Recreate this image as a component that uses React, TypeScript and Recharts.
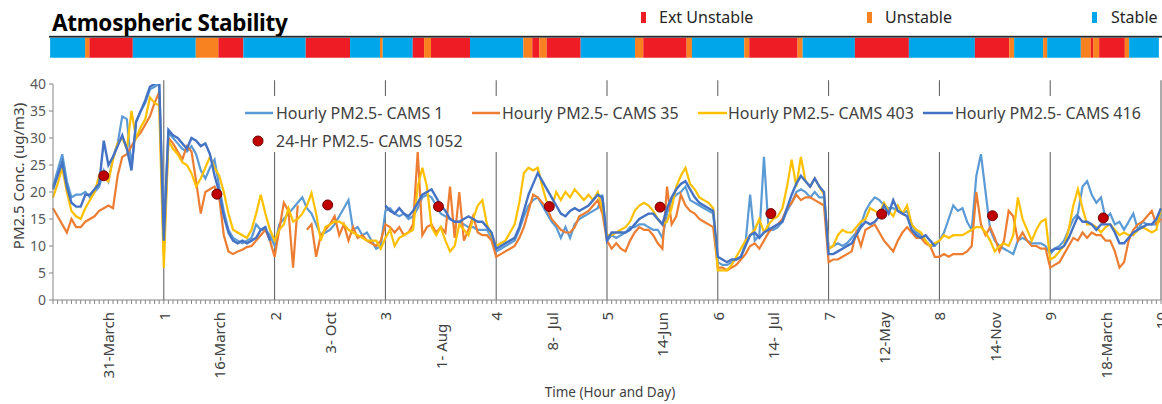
import React from 'react';
import {
  ComposedChart, Line, Scatter, XAxis, YAxis, ReferenceLine, Legend, Label,
  BarChart, Bar,
} from 'recharts';

const FONT = "'Noto Sans', 'Open Sans', sans-serif";

// ---------- hourly series (hour 0 .. 240) ----------
const cams1: (number | null)[] = [
  21, 24, 27, 22, 19, 19.5, 19.5, 20, 19, 20, 21, 24, 22, 26.5, 29, 34, 33.5, 24.5, 33, 35, 36.5, 39, 39.5, 40,
  13, 31, 30, 29, 28, 27.5, 28.5, 27, 24, 22.5, 24.5, 26, 21, 16.5, 13, 11.5, 11, 10.5, 11, 11.5, 14, 13, 13, 12,
  10, 14, 15, 16, 17, 18, 19, 17, 16, 14, 12, 12.5, 13, 14, 15.5, 17, 18.5, 13, 13.5, 12, 12.5, 11, 9.5, 10,
  16.5, 17, 16, 15.5, 16, 15, 15.5, 17, 19, 19.5, 19, 17.5, 16, 15.5, 15, 14.5, 14.5, 14, 13.5, 13.5, 13, 13, 13, 11.5,
  9, 9.5, 10, 10.5, 11, 13, 15.5, 17.5, 18.5, 19, 17.5, 16, 14.5, 13.5, 11.5, 13.5, 11.5, 14, 15, 15.5, 16, 16.5, 17, 19.5,
  11, 12, 11.5, 12, 12.5, 13.5, 13.5, 14, 14, 13.5, 13, 13, 11.5, 16, 18.5, 19.5, 20, 21, 18.5, 18, 17.5, 17, 16.5, 16,
  7, 6.5, 6.5, 7, 7.5, 8, 10.5, 19.5, 11, 12, 26.5, 13, 13, 13.5, 14.5, 16.5, 18, 20, 20.5, 20, 19, 20, 19, 19,
  9.5, 10, 10.5, 10, 10.5, 11.5, 12.5, 14, 16.5, 18, 19, 18.5, 17.5, 17, 17, 16.5, 16, 16.5, 14, 12.5, 12, 11, 10, 10,
  11, 12.5, 15, 17.5, 16.5, 17, 14.5, 13, 23, 27, 20, 13, 11, 10, 9.5, 9, 8.5, 11, 11.5, 11, 10.5, 10.5, 10.5, 10,
  8.5, 9.5, 10, 11, 13, 15, 16, 21, 22, 19.5, 18, 19, 15, 16, 14, 14.5, 13, 14.5, 16, 13, 14.5, 14, 14, 14, 16,
];

const cams35: (number | null)[] = [
  17, 15.5, 14, 12.5, 15, 13.5, 13.5, 14.5, 15, 15.5, 16.5, 17, 17.5, 17, 23, 26.5, 27, 28.5, 30, 31, 32.5, 34, 36.5, 38.5,
  9, 30, 29, 27.5, 26, 28.5, 27.5, 22, 16, 20, 20.5, 21, 19, 12, 9, 8.5, 9, 9.3, 9.8, 10, 11, 12, 13, 11,
  8, 13, 18, 16.5, 6, 17.5, null, 13, 14, 8, 12, 13, 14, 15.5, 12, 14, 11, 13.5, 11.5, 12, 11, 10.5, 10, 11,
  14, 13.5, 12.5, 13.5, 12, 12.5, 14, 27.5, 12, 13.5, 14, 12.5, 13.5, 12.5, 21, 11.5, 20, 11, 13, 15.5, 12.5, 12, 12, 11,
  8, 8.5, 9, 9.5, 10, 11.5, 13.5, 16.5, 19.5, 19, 18, 17, 15, 14, 13, 12.5, 12.5, 13.5, 15.5, 16, 16.5, 17.5, 18.5, 16,
  11, 9.5, 10.5, 9.5, 9, 11, 12.5, 13.5, 13, 13, 12, 10.5, 9.5, 21, 14, 15.5, 19.5, 17.5, 16.5, 16, 15, 14.5, 14, 13.5,
  6, 6, 5.5, 6, 6.5, 7.5, 8.5, 10, 10.5, 9.5, 11, 12.5, 13.5, 14, 15, 17, 18, 19.5, 18.5, 19, 19, 18.5, 18, 17.5,
  7, 7.5, 7.5, 8, 8.5, 9, 12.5, 10, 13, 13.5, 14, 12.5, 11, 10, 9, 11, 12.5, 13.5, 12.5, 11.5, 11.5, 10.5, 10, 8,
  8, 8.5, 8, 8.5, 8.5, 8.5, 9, 10, 20, 14, 12, 13.5, 11.5, 9, 11, 16.5, 15.5, 11, 12.5, 11, 10, 10, 9.5, 9.5,
  6, 6.5, 7, 8.5, 10, 11.5, 11, 12.5, 11.5, 12.5, 12, 12, 11, 11, 9, 6, 7, 11, 13, 14, 14.5, 15.5, 16.5, 14, 15,
];

const cams403: (number | null)[] = [
  19, 21.5, 24.5, 20, 16.5, 15.5, 15, 17, 18.5, 20, 23, 22.5, 22, 26, 29, 30, 28, 35, 30, 32, 33.5, 37.5, 36.5, 36,
  6, 29.5, 28, 27, 25.5, 25, 23.5, 21, 22.5, 24.5, 26.5, 24.5, 23, 20, 16, 13, 12.5, 12, 11.5, 13, 16, 19.5, 16, 13,
  11, 13, 14, 17, 14.5, 15, 16, 17.5, 19.8, 16, 11, 13.5, 14, 14.5, 14.5, 14, 13, 12.5, 12, 11.5, 11, 11, 11, 9.5,
  11.5, 13, 10, 11.5, 12, 12.5, 13, 21, 24.5, 21, 13.5, 12, 13.5, 11, 9, 10, 14, 13, 12, 15, 17.5, 18.5, 14, 12,
  10, 10.5, 11, 12.5, 14, 18, 23.5, 24.5, 24, 24.5, 21, 18, 17, 20, 18.5, 20, 19, 20.5, 19.5, 18.5, 19.5, 18.5, 20, 17,
  12, 12, 12.5, 13, 13.5, 14.5, 16.5, 17.5, 18, 17.5, 16.5, 15, 14, 14.5, 17, 21, 23, 24.5, 21.5, 20.5, 19, 18.5, 18, 17,
  5.5, 5.5, 5.5, 6.5, 8, 9.5, 11, 12, 13, 15, 12.5, 14, 15, 15.5, 17, 21, 26, 21, 26.5, 22, 21, 22.5, 21, 19.5,
  9.5, 10, 12, 13, 12.5, 12.5, 13.5, 14.5, 15, 17, 16.5, 16, 18, 16.5, 15.5, 17.5, 16, 17.5, 14, 13, 12.5, 11, 10, 10.5,
  11, 12, 11.5, 12, 12, 12, 12.5, 13, 13.5, 13.5, 12.5, 11, 9, 10, 10.5, 10, 12, 19, 15, 13, 11, 13, 14.5, 15,
  7.5, 8, 9, 10, 13, 17.5, 20.5, 17, 14, 14, 13.5, 12.5, 13.5, 14, 13, 12, 12.5, 12, 12, 13, 13.5, 13, 12.5, 13, 17,
];

const N = null;
const cams416: (number | null)[] = [
  20.5, 23, 25.5, 21, 18, 17.3, 17.3, 19.5, 19.5, 20.5, 21.5, 29.5, 25, 26.5, 28.5, 30.5, 28, 24, 33, 35, 37, 39.5, 40, 40.5,
  11, 31.5, 30.5, 30, 29, 28, 30, 29.5, 28.5, 29, 27, 23, 20, 15.5, 12.5, 11, 10.5, 11, 10.5, 11, 11.5, 13, 13.5, 11,
  N, N, N, N, N, N, N, N, N, N, N, N, N, N, N, N, N, N, N, N, N, N, N, N,
  17.5, 16.5, 16, 17, 16, 15.5, 16.5, 18, 19.5, 20, 20.5, 19, 17.5, 16.5, 15, 14.5, 14.5, 15, 15.5, 15, 14.5, 14.5, 13.5, 12.5,
  9.5, 10, 10.5, 11, 11.5, 13.5, 16.5, 19.5, 21.5, 23.5, 22, 20.5, 19, 17.5, 16, 15.5, 16.5, 17, 16.5, 17, 17.5, 18.5, 19.5, 19,
  11, 12.5, 12.5, 12.5, 12.5, 13, 14, 15, 15.5, 16, 16, 15, 14, 17, 19, 20.5, 21.5, 22, 20.5, 19, 18, 17.5, 17, 16.5,
  8, 7.5, 7, 7.5, 7.5, 8, 10, 12, 12.5, 11.5, 12.5, 13, 13.5, 14, 14.5, 17, 19.5, 21.5, 23, 22, 21, 22.5, 21, 20,
  8.5, 8.5, 9, 9.5, 10, 10.5, 12, 13.5, 14.5, 14, 14.5, 15.5, 17.5, 16, 18.5, 16.5, 16, 15.5, 13, 12, 11.5, 12, 11, 10,
  N, N, N, N, N, N, N, N, N, N, N, N, N, N, N, N, N, N, N, N, N, N, N, N,
  9, 9.5, 9.5, 10, 11.5, 13.5, 15.5, 14.5, 14.5, 14, 13, 14, 14, 14, 12.5, 10.5, 10.5, 11.5, 12.5, 13, 13.5, 14, 14, 15, 17,
];

// ---------- 24-hr averages ----------
const dailyHours = [11, 35.5, 59.5, 83.5, 107.5, 131.5, 155.5, 179.5, 203.5, 227.5];
const dailyValues = [23, 19.6, 17.6, 17.3, 17.3, 17.2, 16.0, 15.9, 15.6, 15.2];

// ---------- axis labels ----------
const dateLabels = ['31-March', '16-March', '3- Oct', '1- Aug   ', '8-  Jul', '14-Jun', '14-  Jul', '12-May', '14-Nov', '18-March'];
const dayNumbers = ['1', '2', '3', '4', '5', '6', '7', '8', '9', '10'];
const yTicks = [0, 5, 10, 15, 20, 25, 30, 35, 40];

// ---------- atmospheric stability (segment kind, end hour) ----------
const stabilityKinds = ['S', 'U', 'E', 'S', 'U', 'E', 'S', 'E', 'S', 'U', 'S', 'E', 'U', 'E', 'S', 'U', 'E', 'U', 'E', 'S', 'U', 'E', 'U', 'S', 'U', 'E', 'U', 'S', 'E', 'S', 'E', 'U', 'S', 'U', 'S', 'U', 'E', 'U', 'E', 'U', 'S'];
const stabilityEnds = [7.57, 8.5, 17.9, 31.53, 36.42, 41.83, 55.33, 64.92, 71.41, 72.0, 78.49, 80.94, 82.45, 90.89, 102.42, 104.37, 105.89, 107.49, 114.84, 126.6, 128.39, 137.78, 138.93, 150.25, 151.33, 161.8, 162.89, 174.2, 185.89, 200.17, 207.6, 208.67, 214.95, 215.82, 223.11, 225.28, 225.77, 227.07, 232.63, 233.56, 240];
const stabilityNames: Record<string, string> = { E: 'Ext Unstable', U: 'Unstable', S: 'Stable' };
const stabilityColors: Record<string, string> = { E: '#EE1D25', U: '#F7821F', S: '#00A6EA' };

const seriesNames = ['Hourly PM2.5- CAMS 1', 'Hourly PM2.5- CAMS 35', 'Hourly PM2.5- CAMS 403', 'Hourly PM2.5- CAMS 416'];
const seriesColors = ['#5B9BD5', '#ED7D31', '#FFC000', '#4472C4'];
const dailyName = '24-Hr PM2.5- CAMS 1052';

// ---------- derived tables ----------
const hours = cams1.map((_, i) => i);
const hourlyRows = hours.map((h) => ({ h, c1: cams1[h], c35: cams35[h], c403: cams403[h], c416: cams416[h] }));
const dailyRows = dailyHours.map((h, i) => ({ h, v: dailyValues[i] }));
const stabilityRow: Record<string, any> = { name: 'stability' };
stabilityEnds.forEach((e, i) => { stabilityRow['s' + i] = e - (i === 0 ? 0 : stabilityEnds[i - 1]); });

const HourTick = (props: any) => {
  const { x, y, payload } = props;
  const h = payload.value;
  let label: string | null = null;
  if (h % 24 === 12) label = dateLabels[(h - 12) / 24];
  else if (h > 0 && h % 24 === 0) label = dayNumbers[h / 24 - 1];
  if (label == null) return <g />;
  const ty = y + 6;
  return (
    <text x={x} y={ty} transform={`rotate(-90 ${x} ${ty})`} textAnchor="end" dominantBaseline="central"
      fontSize={15} fill="#404040" fontFamily={FONT} style={{ whiteSpace: 'pre' }}>{label}</text>
  );
};

const DailyDot = (props: any) => (
  <circle cx={props.cx} cy={props.cy} r={5} fill="#C00000" stroke="#6E0000" strokeWidth={1} />
);

const MainLegend = () => {
  const row1 = 17;
  const row2 = 45;
  const items = [
    { x1: 7, x2: 35, tx: 38 },
    { x1: 234, x2: 262, tx: 264 },
    { x1: 460, x2: 489, tx: 490 },
    { x1: 685, x2: 715, tx: 717 },
  ];
  return (
    <svg width={914} height={58} style={{ display: 'block', overflow: 'visible' }}>
      {items.map((it, i) => (
        <g key={i}>
          <line x1={it.x1} x2={it.x2} y1={row1} y2={row1} stroke={seriesColors[i]} strokeWidth={2.5} />
          <text x={it.tx} y={row1 + 5.5} fontSize={16} fill="#404040" fontFamily={FONT}>{seriesNames[i]}</text>
        </g>
      ))}
      <circle cx={20} cy={row2} r={5} fill="#C00000" stroke="#6E0000" strokeWidth={1} />
      <text x={38} y={row2 + 5.5} fontSize={16} fill="#404040" fontFamily={FONT}>{dailyName}</text>
    </svg>
  );
};

const StabilityLegend = () => {
  const entries = [
    { k: 'E', mx: 641, tx: 659 },
    { k: 'U', mx: 867, tx: 885 },
    { k: 'S', mx: 1092, tx: 1111 },
  ];
  return (
    <svg width={1162} height={37.6} style={{ display: 'block' }}>
      <text x={52} y={31} fontSize={22.5} fontWeight={700} fill="#000" fontFamily={FONT} letterSpacing={-0.3}>Atmospheric Stability</text>
      {entries.map((e) => (
        <g key={e.k}>
          <rect x={e.mx} y={12} width={5} height={11} fill={stabilityColors[e.k]} />
          <text x={e.tx} y={23} fontSize={16} fill="#262626" fontFamily={FONT}>{stabilityNames[e.k]}</text>
        </g>
      ))}
      <rect x={49} y={35.8} width={1113} height={1.8} fill="#1F2B31" />
    </svg>
  );
};

export default function App() {
  return (
    <div style={{ position: 'absolute', left: 0, top: 0, width: 1162, height: 404, background: '#fff', overflow: 'hidden' }}>
      <div style={{ position: 'absolute', left: 0, top: 0 }}>
        <BarChart width={1162} height={57.7} layout="vertical" data={[stabilityRow]}
          margin={{ top: 37.7, right: 3, bottom: 0, left: 50 }} barCategoryGap={0}>
          <XAxis type="number" domain={[0, 240]} hide />
          <YAxis type="category" dataKey="name" hide />
          {stabilityKinds.map((k, i) => (
            <Bar key={i} dataKey={'s' + i} stackId="st" fill={stabilityColors[k]} isAnimationActive={false} />
          ))}
          <Legend layout="vertical" align="center" verticalAlign="middle" content={StabilityLegend}
            wrapperStyle={{ left: 0, top: 0, width: 1162, height: 37.6 }} />
        </BarChart>
      </div>
      <div style={{ position: 'absolute', left: 0, top: 0 }}>
        <ComposedChart width={1162} height={404} data={hourlyRows}
          margin={{ top: 84, right: 1, bottom: 4, left: 8 }}>
          <XAxis type="number" dataKey="h" domain={[0, 240]} ticks={hours} interval={0} height={100}
            tickSize={4} tickMargin={2} tick={<HourTick />}
            axisLine={{ stroke: '#868686' }} tickLine={{ stroke: '#868686' }}>
            <Label content={() => (
              <text x={610} y={392} textAnchor="middle" dominantBaseline="central" fontSize={13.5} fill="#404040" fontFamily={FONT}>Time (Hour and Day)</text>
            )} />
          </XAxis>
          <YAxis type="number" domain={[0, 40]} ticks={yTicks} allowDataOverflow width={45}
            tickSize={4} tickMargin={3}
            tick={{ fontSize: 14, fill: '#595959', fontFamily: FONT }}
            axisLine={{ stroke: '#868686' }} tickLine={{ stroke: '#868686' }}>
            <Label content={() => (
              <text x={18} y={176} transform="rotate(-90 18 176)" textAnchor="middle" dominantBaseline="central" fontSize={15} fill="#404040" fontFamily={FONT}>PM2.5 Conc. (ug/m3)</text>
            )} />
          </YAxis>
          {dayNumbers.map((d, i) => (
            <ReferenceLine key={d} segment={[{ x: (i + 1) * 24, y: 0 }, { x: (i + 1) * 24, y: 40.7 }]}
              stroke="#595959" strokeWidth={1} ifOverflow="visible" />
          ))}
          <Line dataKey="c1" stroke={seriesColors[0]} strokeWidth={2.2} dot={false} isAnimationActive={false} />
          <Line dataKey="c35" stroke={seriesColors[1]} strokeWidth={2.2} dot={false} isAnimationActive={false} />
          <Line dataKey="c403" stroke={seriesColors[2]} strokeWidth={2.2} dot={false} isAnimationActive={false} />
          <Line dataKey="c416" stroke={seriesColors[3]} strokeWidth={2.4} dot={false} isAnimationActive={false} />
          <Scatter data={dailyRows} dataKey="v" shape={DailyDot} isAnimationActive={false} />
          <Legend layout="vertical" align="center" verticalAlign="middle" content={MainLegend}
            wrapperStyle={{ left: 238, top: 96, width: 914, height: 56, background: '#fff' }} />
        </ComposedChart>
      </div>
    </div>
  );
}
